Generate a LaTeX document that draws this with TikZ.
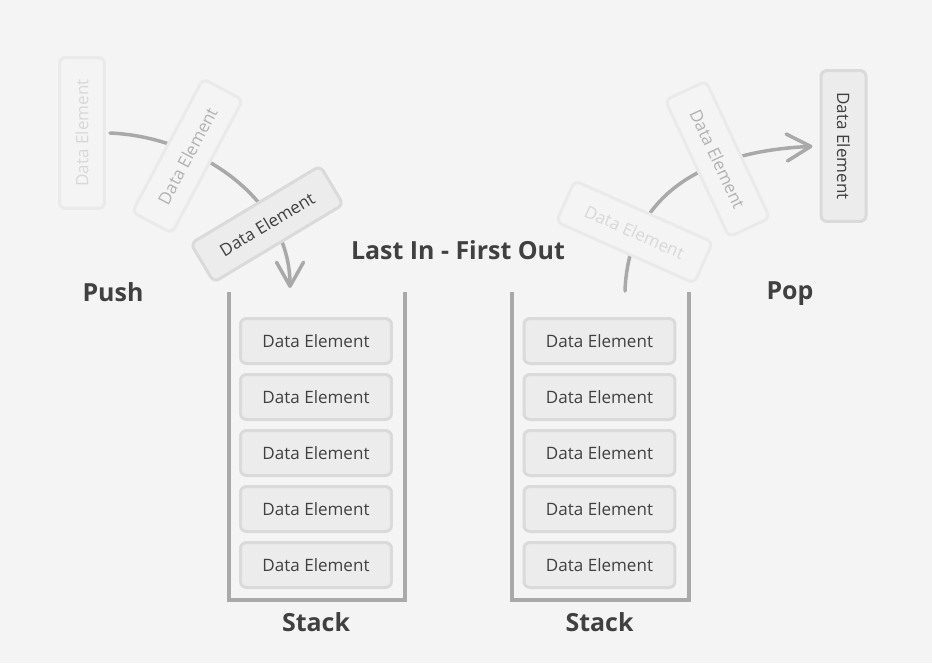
\documentclass[tikz,border=0pt]{standalone}
\usepackage{fontspec}
\setmainfont{Open Sans}
\usetikzlibrary{arrows.meta}

\definecolor{bgcol}{HTML}{F4F4F4}
\definecolor{boxfill}{HTML}{ECECEC}
\definecolor{boxline}{HTML}{DADADA}
\definecolor{wallcol}{HTML}{A9A9A9}
\definecolor{txtcol}{HTML}{404040}
\definecolor{fadeline}{HTML}{EAEAEA}
\definecolor{fadetxt}{HTML}{D8D8D8}
\definecolor{midtxt}{HTML}{B2B2B2}

\begin{document}
\begin{tikzpicture}[x=0.02cm,y=-0.02cm,
  elem/.style={draw=boxline,fill=boxfill,line width=0.06cm,rounded corners=0.12cm,
    minimum width=3.02cm,minimum height=0.9cm,inner sep=0pt,text=txtcol,
    font=\fontsize{9.7}{11}\selectfont},
  faint/.style={elem,draw=fadeline,fill=bgcol,text=fadetxt},
  halfway/.style={elem,draw=fadeline,fill=bgcol,text=midtxt},
  wall/.style={draw=wallcol,line width=0.065cm},
  move/.style={draw=wallcol,line width=0.07cm,line cap=round,
    -{Straight Barb[length=0.48cm,width=0.54cm,round]}},
  label/.style={text=txtcol,font=\fontsize{14.2}{17}\bfseries}]
\fill[bgcol] (0,0) rectangle (932,663);

\draw[wall] (229,292) |- (405,600) -- (405,292);
\draw[wall] (512,292) |- (689,600) -- (689,292);
\foreach \i in {1,...,5} {
  \node[elem] (l\i) at (316,{285+56*\i}) {Data Element};
  \node[elem] (r\i) at (599.5,{285+56*\i}) {Data Element};
}
\node[label] (lstack) at (316,622) {Stack};
\node[label] (rstack) at (599.5,622) {Stack};

\node[label] (title) at (458,250) {Last In - First Out};
\node[label] (push) at (113,292) {Push};
\node[label] (pop) at (790,294) {Pop};

\node[faint,rotate=90] (push1) at (82,133) {Data Element};
\coordinate (pushend) at (290,288);
\draw[move] ([xshift=0.08cm]push1.south) .. controls (200,137) and (290,200) .. (pushend);
\node[halfway,rotate=62] (push2) at (187.5,156) {Data Element};
\node[elem,rotate=31] (push3) at (267,224) {Data Element};

\node[elem,rotate=-90] (pop3) at (843.5,146) {Data Element};
\coordinate (popstart) at (625,291);
\draw[move,shorten >=0.14cm] (popstart) .. controls (628,205) and (690,152) .. (pop3.south);
\node[faint,rotate=-24] (pop1) at (634.5,232) {Data Element};
\node[halfway,rotate=-65] (pop2) at (717.5,159) {Data Element};
\end{tikzpicture}
\end{document}
